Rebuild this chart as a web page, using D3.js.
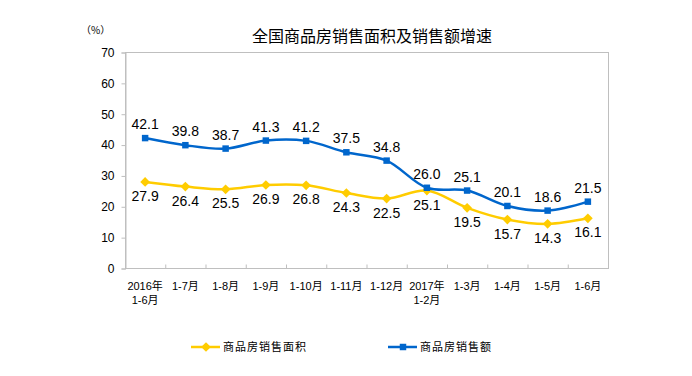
<!DOCTYPE html>
<html>
<head>
<meta charset="utf-8">
<script src="https://cdn.jsdelivr.net/npm/d3@7"></script>
<style>
  body { margin: 0; background: #fff; }
  text { font-family: "Liberation Sans", Arial, "Noto Sans CJK SC", sans-serif; }
</style>
</head>
<body>
<div id="chart"></div>
<script>
// categories (two-line labels split by \n)
const months = ["2016年\n1-6月", "1-7月", "1-8月", "1-9月", "1-10月", "1-11月", "1-12月",
	"2017年\n1-2月", "1-3月", "1-4月", "1-5月", "1-6月"]
// 商品房销售面积 growth (%)
const areaGrowth = [27.9, 26.4, 25.5, 26.9, 26.8, 24.3, 22.5, 25.1, 19.5, 15.7, 14.3, 16.1]
// 商品房销售额 growth (%)
const salesGrowth = [42.1, 39.8, 38.7, 41.3, 41.2, 37.5, 34.8, 26.0, 25.1, 20.1, 18.6, 21.5]
const yTicks = [0, 10, 20, 30, 40, 50, 60, 70]

const params = {
	width: 692, height: 376,
	left: 125, right: 608, top: 52, bottom: 268,
	gridColor: "#bfbfbf",
	yellow: "#ffcc00", blue: "#0066cc"
}

const svg = d3.select("#chart").append("svg")
	.attr("width", params.width)
	.attr("height", params.height)

const xScale = d3.scaleBand()
	.domain(months)
	.range([params.left, params.right])

const yScale = d3.scaleLinear()
	.domain([0, 70])
	.range([params.bottom, params.top])

// plot frame
svg.append("rect")
	.attr("x", params.left + 0.5).attr("y", params.top + 0.5)
	.attr("width", params.right - params.left).attr("height", params.bottom - params.top)
	.attr("fill", "none").attr("stroke", params.gridColor)

// y axis
const yAxis = svg.append("g")
	.attr("transform", `translate(${params.left + 0.5},0.5)`)
	.call(d3.axisLeft(yScale).tickValues(yTicks).tickSize(4).tickPadding(7))
yAxis.select(".domain").attr("stroke", params.gridColor)
yAxis.selectAll(".tick line").attr("stroke", params.gridColor)
yAxis.selectAll(".tick text").attr("font-size", 12).attr("fill", "#000")

// x axis, ticks point inward between categories
const xAxis = svg.append("g")
	.attr("transform", `translate(0.5,${params.bottom + 0.5})`)
xAxis.append("line")
	.attr("x1", params.left).attr("x2", params.right)
	.attr("stroke", params.gridColor)
xAxis.selectAll(".sep")
	.data(months.slice(1))
	.join("line")
	.attr("x1", d => xScale(d)).attr("x2", d => xScale(d))
	.attr("y1", 0).attr("y2", -4)
	.attr("stroke", params.gridColor)

const xLabels = svg.append("g")
	.selectAll("text")
	.data(months)
	.join("text")
	.attr("text-anchor", "middle")
	.attr("font-size", 11)
	.attr("fill", "#000")
xLabels.each(function(d) {
	const cx = xScale(d) + xScale.bandwidth() / 2
	d.split("\n").forEach((line, i) => {
		d3.select(this).append("tspan")
			.attr("x", cx)
			.attr("y", 290 + i * 14)
			.text(line)
	})
})

const lineGen = d3.line()
	.x((d, i) => xScale(months[i]) + xScale.bandwidth() / 2)
	.y(d => yScale(d))
	.curve(d3.curveCatmullRom.alpha(0.5))

const series = [
	{ name: "商品房销售面积", values: areaGrowth, color: params.yellow, marker: d3.symbolDiamond2, size: 60, dy: 19 },
	{ name: "商品房销售额", values: salesGrowth, color: params.blue, marker: d3.symbolSquare, size: 42, dy: -9 }
]

series.forEach(s => {
	svg.append("path")
		.attr("d", lineGen(s.values))
		.attr("fill", "none")
		.attr("stroke", s.color)
		.attr("stroke-width", 2.5)

	svg.append("g").selectAll("path")
		.data(s.values)
		.join("path")
		.attr("d", d3.symbol().type(s.marker).size(s.size))
		.attr("transform", (d, i) => `translate(${xScale(months[i]) + xScale.bandwidth() / 2},${yScale(d)})`)
		.attr("fill", s.color)

	svg.append("g").selectAll("text")
		.data(s.values)
		.join("text")
		.attr("x", (d, i) => xScale(months[i]) + xScale.bandwidth() / 2)
		.attr("y", d => yScale(d) + s.dy)
		.attr("text-anchor", "middle")
		.attr("font-size", 14)
		.attr("fill", "#000")
		.text(d => d.toFixed(1))
})

// title and unit
svg.append("text")
	.attr("x", 372).attr("y", 42)
	.attr("text-anchor", "middle")
	.attr("font-size", 16)
	.attr("fill", "#000")
	.style("font-family", "'Noto Sans CJK SC', sans-serif")
	.text("全国商品房销售面积及销售额增速")

svg.append("text")
	.attr("x", 81).attr("y", 34)
	.attr("font-size", 10)
	.attr("fill", "#000")
	.style("font-family", "'Noto Sans CJK SC', sans-serif")
	.text("（%）")

// legend
const legendX = [191, 388]
series.forEach((s, i) => {
	const g = svg.append("g").attr("transform", `translate(${legendX[i]},347)`)
	g.append("line")
		.attr("x1", 0).attr("x2", 29)
		.attr("stroke", s.color).attr("stroke-width", 2.5)
	g.append("path")
		.attr("d", d3.symbol().type(s.marker).size(s.size))
		.attr("transform", "translate(15,0)")
		.attr("fill", s.color)
	g.append("text")
		.attr("x", 32).attr("y", 4)
		.attr("font-size", 11)
		.attr("letter-spacing", 1)
		.attr("fill", "#000")
		.style("font-family", "'Noto Sans CJK SC', sans-serif")
		.text(s.name)
})
</script>
</body>
</html>
